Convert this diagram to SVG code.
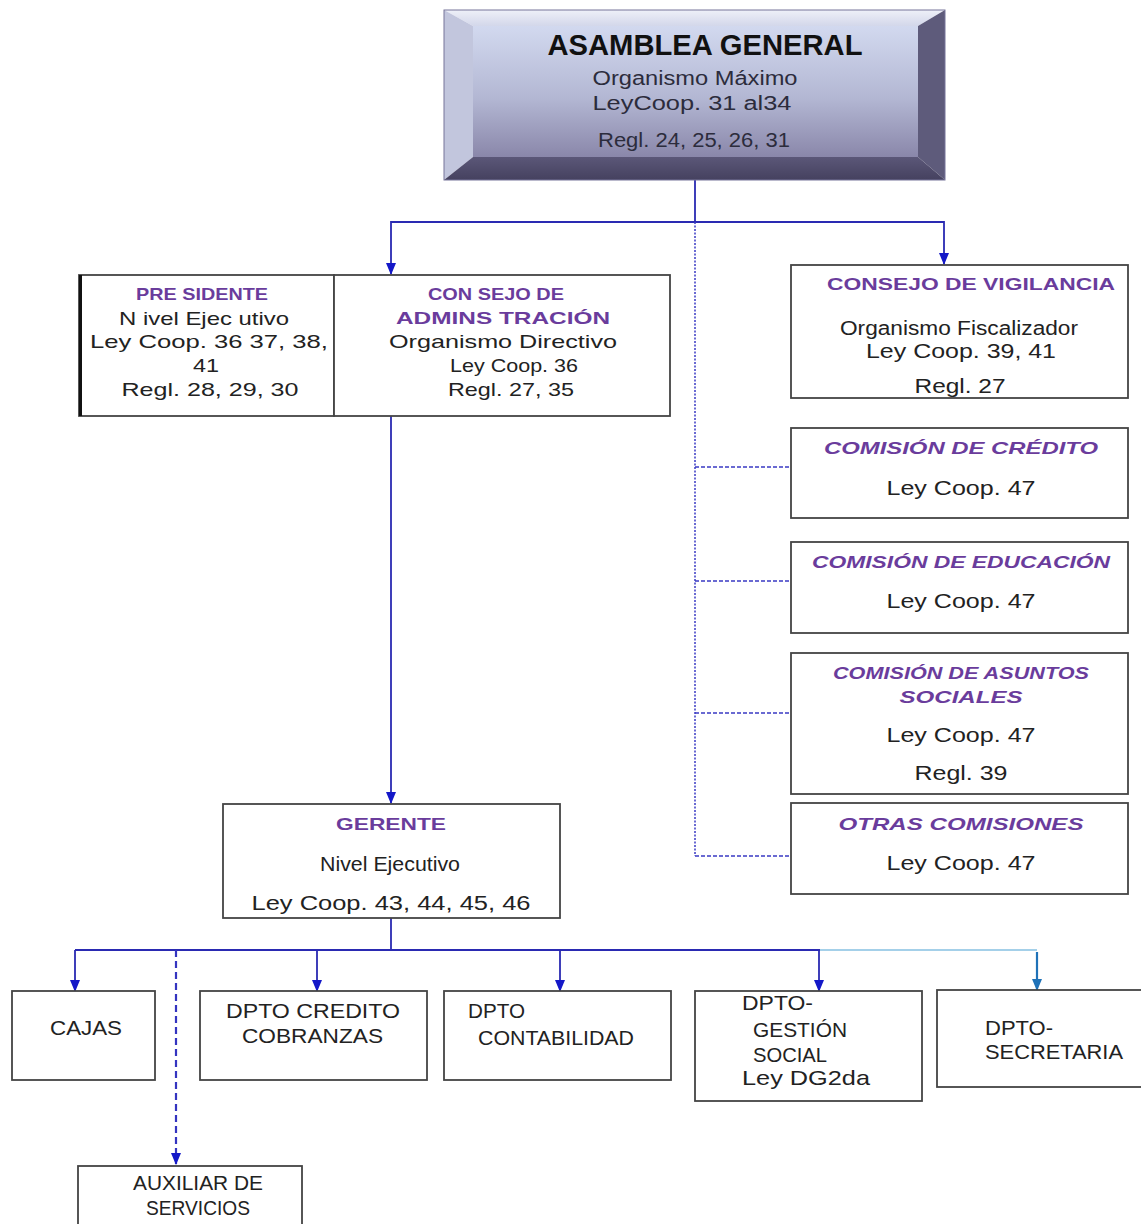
<svg xmlns="http://www.w3.org/2000/svg" width="1141" height="1224" viewBox="0 0 1141 1224">
  <defs>
    <linearGradient id="face" x1="0" y1="0" x2="0" y2="1">
      <stop offset="0" stop-color="#d2d9ef"/>
      <stop offset="0.55" stop-color="#b3b7d3"/>
      <stop offset="1" stop-color="#8a87aa"/>
    </linearGradient>
    <linearGradient id="bevelTop" x1="0" y1="0" x2="0" y2="1">
      <stop offset="0" stop-color="#eef0f8"/>
      <stop offset="1" stop-color="#d3d7ea"/>
    </linearGradient>
    <linearGradient id="bevelBottom" x1="0" y1="0" x2="0" y2="1">
      <stop offset="0" stop-color="#5b5778"/>
      <stop offset="1" stop-color="#45415f"/>
    </linearGradient>
    <marker id="arr" viewBox="0 0 12 10" refX="11" refY="5" markerWidth="12" markerHeight="10" markerUnits="userSpaceOnUse" orient="auto">
      <path d="M0,0 L12,5 L0,10 z" fill="#1418c8"/>
    </marker>
    <marker id="arrTeal" viewBox="0 0 12 10" refX="11" refY="5" markerWidth="12" markerHeight="10" markerUnits="userSpaceOnUse" orient="auto">
      <path d="M0,0 L12,5 L0,10 z" fill="#1f72b8"/>
    </marker>
    <style>
      .box { fill: #fff; stroke: #444; stroke-width: 1.8; }
      text { font-family: "Liberation Sans", Arial, sans-serif; }
      .t { fill: #222; font-size: 20px; text-anchor: middle; }
      .tg { fill: #2c2c3c; font-size: 19.5px; text-anchor: middle; }
      .tp { fill: #222; font-size: 18.5px; text-anchor: middle; }
      .s { fill: #222; font-size: 21px; }
      .h { fill: #6a3c9c; font-size: 16.5px; font-weight: bold; text-anchor: middle; }
      .hi { font-style: italic; }
      .ln { fill: none; stroke: #2a2ab2; stroke-width: 1.8; }
      .dot { fill: none; stroke: #3a3ac4; stroke-width: 1.5; stroke-dasharray: 2 1.5; }
      .dash { fill: none; stroke: #3a3ac4; stroke-width: 1.5; stroke-dasharray: 4 2; }
    </style>
  </defs>

  <!-- connectors -->
  <g id="connectors">
    <path class="ln" d="M695,180 V222"/>
    <path class="ln" d="M695,222 H391 V274" marker-end="url(#arr)"/>
    <path class="ln" d="M695,222 H944 V264" marker-end="url(#arr)"/>
    <path class="dot" d="M695,222 V856"/>
    <path class="dash" d="M695,467 H790"/>
    <path class="dash" d="M695,581 H790"/>
    <path class="dash" d="M695,713 H790"/>
    <path class="dash" d="M695,856 H790"/>
    <path class="ln" d="M391,416 V803" marker-end="url(#arr)"/>
    <path class="ln" d="M391,918 V950"/>
    <path class="ln" d="M75,950 H820"/>
    <path fill="none" stroke="#86c0e2" stroke-width="1.6" d="M820,950 H1037"/>
    <path class="ln" d="M75,950 V991" marker-end="url(#arr)"/>
    <path class="ln" d="M317,950 V991" marker-end="url(#arr)"/>
    <path class="ln" d="M560,950 V991" marker-end="url(#arr)"/>
    <path class="ln" d="M819,950 V991" marker-end="url(#arr)"/>
    <path fill="none" stroke="#1f72b8" stroke-width="2.2" d="M1037,952 V990" marker-end="url(#arrTeal)"/>
    <path fill="none" stroke="#3434c0" stroke-width="2.2" stroke-dasharray="7 4" d="M176,950 V1164" marker-end="url(#arr)"/>
  </g>

  <!-- top: general assembly, bevelled block -->
  <g id="asamblea">
    <polygon points="444,10 945,10 918,26 473,26" fill="url(#bevelTop)"/>
    <polygon points="444,10 473,26 473,157 444,180" fill="#c2c6dd"/>
    <polygon points="945,10 945,180 918,157 918,26" fill="#5e5b7b"/>
    <polygon points="444,180 473,157 918,157 945,180" fill="url(#bevelBottom)"/>
    <rect x="473" y="26" width="445" height="131" fill="url(#face)"/>
    <rect x="444" y="10" width="501" height="170" fill="none" stroke="#77759a" stroke-width="1"/>
    <text x="705" y="55" font-size="29" font-weight="bold" fill="#111" text-anchor="middle" textLength="315" lengthAdjust="spacingAndGlyphs">ASAMBLEA GENERAL</text>
    <text class="tg" x="695" y="85" textLength="205" lengthAdjust="spacingAndGlyphs">Organismo Máximo</text>
    <text class="tg" x="692" y="110" textLength="199" lengthAdjust="spacingAndGlyphs">LeyCoop. 31 al34</text>
    <text class="tg" x="694" y="147" textLength="192" lengthAdjust="spacingAndGlyphs">Regl. 24, 25, 26, 31</text>
  </g>

  <!-- presidente / consejo de administracion -->
  <g id="presidente">
    <rect class="box" x="79" y="275" width="255" height="141"/>
    <line x1="80.5" y1="275" x2="80.5" y2="416" stroke="#111" stroke-width="3"/>
    <text class="h" x="202" y="300" textLength="132" lengthAdjust="spacingAndGlyphs">PRE SIDENTE</text>
    <text class="tp" x="204" y="325" textLength="170" lengthAdjust="spacingAndGlyphs">N ivel Ejec utivo</text>
    <text class="tp" x="209" y="348" textLength="238" lengthAdjust="spacingAndGlyphs">Ley Coop. 36 37, 38,</text>
    <text class="tp" x="206" y="372" textLength="26" lengthAdjust="spacingAndGlyphs">41</text>
    <text class="tp" x="210" y="396" textLength="177" lengthAdjust="spacingAndGlyphs">Regl. 28, 29, 30</text>
  </g>
  <g id="consejo-administracion">
    <rect class="box" x="334" y="275" width="336" height="141"/>
    <text class="h" x="496" y="300" textLength="136" lengthAdjust="spacingAndGlyphs">CON SEJO DE</text>
    <text class="h" x="503" y="324" textLength="214" lengthAdjust="spacingAndGlyphs">ADMINS TRACIÓN</text>
    <text class="tp" x="503" y="348" textLength="228" lengthAdjust="spacingAndGlyphs">Organismo Directivo</text>
    <text class="tp" x="514" y="372" textLength="128" lengthAdjust="spacingAndGlyphs">Ley Coop. 36</text>
    <text class="tp" x="511" y="396" textLength="126" lengthAdjust="spacingAndGlyphs">Regl. 27, 35</text>
  </g>

  <!-- oversight and committees -->
  <g id="consejo-vigilancia">
    <rect class="box" x="791" y="265" width="337" height="133"/>
    <text class="h" x="971" y="290" textLength="288" lengthAdjust="spacingAndGlyphs">CONSEJO DE VIGILANCIA</text>
    <text class="t" x="959" y="335" font-size="21" textLength="238" lengthAdjust="spacingAndGlyphs">Organismo Fiscalizador</text>
    <text class="t" x="961" y="358" font-size="21" textLength="190" lengthAdjust="spacingAndGlyphs">Ley Coop. 39, 41</text>
    <text class="t" x="960" y="393" font-size="21" textLength="91" lengthAdjust="spacingAndGlyphs">Regl. 27</text>
  </g>
  <g id="comision-credito">
    <rect class="box" x="791" y="428" width="337" height="90"/>
    <text class="h hi" x="961" y="454" textLength="274" lengthAdjust="spacingAndGlyphs">COMISIÓN DE CRÉDITO</text>
    <text class="t" x="961" y="495" textLength="149" lengthAdjust="spacingAndGlyphs">Ley Coop. 47</text>
  </g>
  <g id="comision-educacion">
    <rect class="box" x="791" y="542" width="337" height="91"/>
    <text class="h hi" x="961" y="568" textLength="298" lengthAdjust="spacingAndGlyphs">COMISIÓN DE EDUCACIÓN</text>
    <text class="t" x="961" y="608" textLength="149" lengthAdjust="spacingAndGlyphs">Ley Coop. 47</text>
  </g>
  <g id="comision-asuntos-sociales">
    <rect class="box" x="791" y="653" width="337" height="141"/>
    <text class="h hi" x="961" y="679" textLength="256" lengthAdjust="spacingAndGlyphs">COMISIÓN DE ASUNTOS</text>
    <text class="h hi" x="961" y="703" textLength="123" lengthAdjust="spacingAndGlyphs">SOCIALES</text>
    <text class="t" x="961" y="742" textLength="149" lengthAdjust="spacingAndGlyphs">Ley Coop. 47</text>
    <text class="t" x="961" y="780" textLength="93" lengthAdjust="spacingAndGlyphs">Regl. 39</text>
  </g>
  <g id="otras-comisiones">
    <rect class="box" x="791" y="803" width="337" height="91"/>
    <text class="h hi" x="961" y="830" textLength="245" lengthAdjust="spacingAndGlyphs">OTRAS COMISIONES</text>
    <text class="t" x="961" y="870" textLength="149" lengthAdjust="spacingAndGlyphs">Ley Coop. 47</text>
  </g>

  <!-- management -->
  <g id="gerente">
    <rect class="box" x="223" y="804" width="337" height="114"/>
    <text class="h" x="391" y="830" font-size="18" textLength="110" lengthAdjust="spacingAndGlyphs">GERENTE</text>
    <text class="t" x="390" y="871" textLength="140" lengthAdjust="spacingAndGlyphs">Nivel Ejecutivo</text>
    <text class="t" x="391" y="910" textLength="279" lengthAdjust="spacingAndGlyphs">Ley Coop. 43, 44, 45, 46</text>
  </g>

  <!-- departments -->
  <g id="cajas">
    <rect class="box" x="12" y="991" width="143" height="89"/>
    <text class="s" x="50" y="1035" textLength="72" lengthAdjust="spacingAndGlyphs">CAJAS</text>
  </g>
  <g id="dpto-credito">
    <rect class="box" x="200" y="991" width="227" height="89"/>
    <text class="s" x="226" y="1018" textLength="174" lengthAdjust="spacingAndGlyphs">DPTO CREDITO</text>
    <text class="s" x="242" y="1043" textLength="141" lengthAdjust="spacingAndGlyphs">COBRANZAS</text>
  </g>
  <g id="dpto-contabilidad">
    <rect class="box" x="444" y="991" width="227" height="89"/>
    <text class="s" x="468" y="1018" textLength="57" lengthAdjust="spacingAndGlyphs">DPTO</text>
    <text class="s" x="478" y="1045" textLength="156" lengthAdjust="spacingAndGlyphs">CONTABILIDAD</text>
  </g>
  <g id="dpto-gestion-social">
    <rect class="box" x="695" y="991" width="227" height="110"/>
    <text class="s" x="742" y="1010" textLength="71" lengthAdjust="spacingAndGlyphs">DPTO-</text>
    <text class="s" x="753" y="1037" textLength="94" lengthAdjust="spacingAndGlyphs">GESTIÓN</text>
    <text class="s" x="753" y="1062" textLength="74" lengthAdjust="spacingAndGlyphs">SOCIAL</text>
    <text class="s" x="742" y="1085" textLength="128" lengthAdjust="spacingAndGlyphs">Ley DG2da</text>
  </g>
  <g id="dpto-secretaria">
    <rect class="box" x="937" y="990" width="210" height="97"/>
    <text class="s" x="985" y="1035" textLength="68" lengthAdjust="spacingAndGlyphs">DPTO-</text>
    <text class="s" x="985" y="1059" textLength="138" lengthAdjust="spacingAndGlyphs">SECRETARIA</text>
  </g>
  <g id="auxiliar-servicios">
    <rect class="box" x="78" y="1166" width="224" height="70"/>
    <text class="s" x="133" y="1190" textLength="130" lengthAdjust="spacingAndGlyphs">AUXILIAR DE</text>
    <text class="s" x="146" y="1215" textLength="104" lengthAdjust="spacingAndGlyphs">SERVICIOS</text>
  </g>
</svg>
